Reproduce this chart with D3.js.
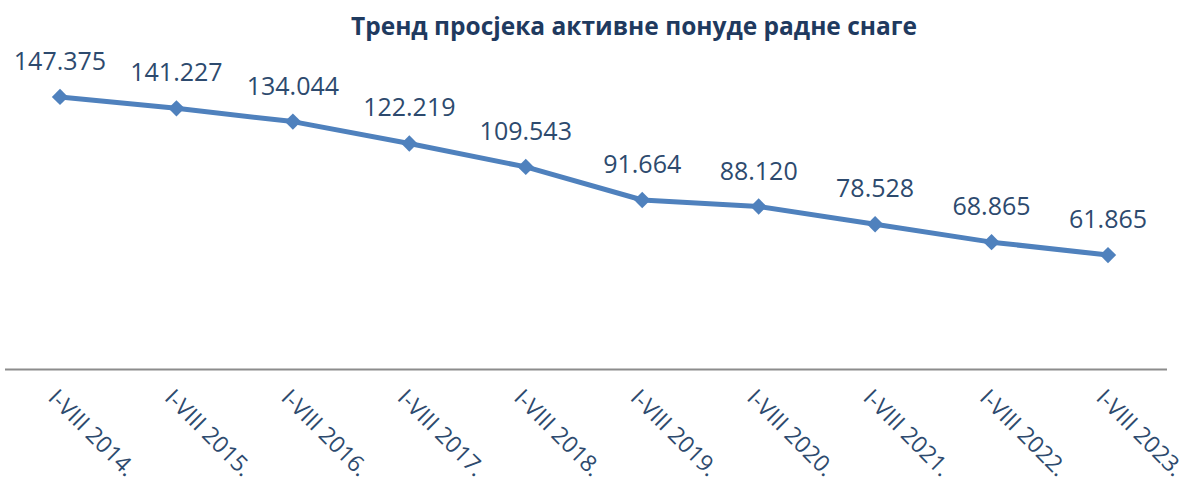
<!DOCTYPE html>
<html><head><meta charset="utf-8">
<script src="https://cdn.jsdelivr.net/npm/d3@7"></script>
<style>body{margin:0;background:#fff;}svg{display:block;}</style>
</head><body>
<svg id="c" width="1193" height="490"></svg>
<script>
const categories = ["I-VIII 2014.","I-VIII 2015.","I-VIII 2016.","I-VIII 2017.","I-VIII 2018.","I-VIII 2019.","I-VIII 2020.","I-VIII 2021.","I-VIII 2022.","I-VIII 2023."];
const values = [147375,141227,134044,122219,109543,91664,88120,78528,68865,61865];
const valueLabels = ["147.375","141.227","134.044","122.219","109.543","91.664","88.120","78.528","68.865","61.865"];
const title = "Тренд просјека  активне понуде радне снаге";

const svg = d3.select("#c");
const x = d3.scalePoint().domain(categories).range([60,1108]);
const y = d3.scaleLinear().domain([0,160000]).range([369.5,73.6]);

svg.append("text").attr("x",634).attr("y",35).attr("text-anchor","middle")
  .attr("font-family","Open Sans").attr("font-weight","bold").attr("font-size",24.5)
  .attr("fill","#1f3a5f").text(title);

svg.append("line").attr("x1",5).attr("x2",1167).attr("y1",y(0)).attr("y2",y(0))
  .attr("stroke","#8c8c8c").attr("stroke-width",2);

const data = categories.map((c,i)=>({c,v:values[i],l:valueLabels[i]}));
svg.append("path").datum(data)
  .attr("d",d3.line().x(d=>x(d.c)).y(d=>y(d.v)))
  .attr("fill","none").attr("stroke","#4f81bd").attr("stroke-width",5).attr("stroke-linejoin","round");

svg.selectAll(".m").data(data).join("path")
  .attr("transform",d=>`translate(${x(d.c)},${y(d.v)})`)
  .attr("d",d3.symbol(d3.symbolDiamond2,170)())
  .attr("fill","#4f81bd");

svg.selectAll(".lbl").data(data).join("text")
  .attr("x",d=>x(d.c)).attr("y",d=>y(d.v)-27)
  .attr("text-anchor","middle").attr("font-family","Open Sans").attr("font-size",25)
  .attr("fill","#2d4a6e").text(d=>d.l);

svg.selectAll(".tk").data(categories).join("text")
  .attr("transform",d=>`translate(${x(d)-13},${399}) rotate(45)`)
  .attr("font-family","Open Sans").attr("font-size",23)
  .attr("fill","#2d4a6e").text(d=>d);
</script>
</body></html>
